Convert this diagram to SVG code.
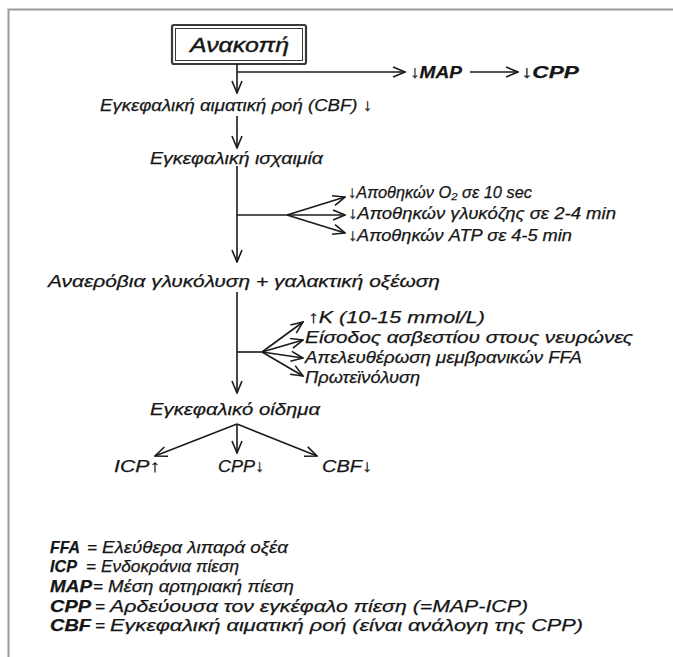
<svg xmlns="http://www.w3.org/2000/svg" width="673" height="657" viewBox="0 0 673 657">
  <style>
    .t { font-family: "Liberation Sans", Arial, sans-serif; font-style: italic; font-size: 17px; fill: #161616; stroke: #161616; stroke-width: 0.25; }
    .b { font-weight: bold; }
    .ln { stroke: #1a1a1a; stroke-width: 1.6; fill: none; }
    .frame { stroke: #9a9a9a; stroke-width: 2; fill: none; }
  </style>
  <defs>
    <marker id="arr" viewBox="0 0 14 12" refX="13" refY="6" markerWidth="14" markerHeight="12" markerUnits="userSpaceOnUse" orient="auto">
      <path d="M1,1 L13,6 L1,11" fill="none" stroke="#1a1a1a" stroke-width="1.6"/>
    </marker>
  </defs>

  <rect width="673" height="657" fill="#ffffff"/>
  <!-- page frame -->
  <path class="frame" d="M8.5,657 V9.5 H673"/>

  <!-- start node -->
  <g id="node-arrest">
    <rect x="172" y="25" width="134" height="39" rx="2" fill="none" stroke="#3a3a3a" stroke-width="2.2"/>
    <rect x="175.5" y="28.5" width="127" height="32" fill="none" stroke="#3a3a3a" stroke-width="1"/>
    <text class="t" x="190" y="52" textLength="99" lengthAdjust="spacingAndGlyphs" style="font-size:20px;stroke-width:0.4">Ανακοπή</text>
  </g>

  <g id="node-map"><text class="t b" x="410" y="78" textLength="52" lengthAdjust="spacingAndGlyphs">↓MAP</text></g>
  <g id="node-cpp-top"><text class="t b" x="521" y="78" textLength="58" lengthAdjust="spacingAndGlyphs">↓CPP</text></g>
  <g id="node-cbf"><text class="t" x="100" y="111" textLength="272" lengthAdjust="spacingAndGlyphs">Εγκεφαλική αιματική ροή (CBF) ↓</text></g>
  <g id="node-ischemia"><text class="t" x="150" y="164" textLength="173" lengthAdjust="spacingAndGlyphs">Εγκεφαλική ισχαιμία</text></g>

  <g id="node-stores">
    <text class="t" x="348" y="198" textLength="184" lengthAdjust="spacingAndGlyphs">↓Αποθηκών O₂ σε 10 sec</text>
    <text class="t" x="348" y="219" textLength="268" lengthAdjust="spacingAndGlyphs">↓Αποθηκών γλυκόζης σε 2-4 min</text>
    <text class="t" x="348" y="241" textLength="224" lengthAdjust="spacingAndGlyphs">↓Αποθηκών ATP σε 4-5 min</text>
  </g>

  <g id="node-anaerobic"><text class="t" x="48" y="287" textLength="392" lengthAdjust="spacingAndGlyphs">Αναερόβια γλυκόλυση + γαλακτική οξέωση</text></g>

  <g id="node-effects">
    <text class="t" x="308" y="323" textLength="177" lengthAdjust="spacingAndGlyphs">↑K  (10-15 mmol/L)</text>
    <text class="t" x="305" y="343" textLength="328" lengthAdjust="spacingAndGlyphs">Είσοδος ασβεστίου στους νευρώνες</text>
    <text class="t" x="305" y="363" textLength="277" lengthAdjust="spacingAndGlyphs">Απελευθέρωση μεμβρανικών FFA</text>
    <text class="t" x="305" y="383" textLength="115" lengthAdjust="spacingAndGlyphs">Πρωτεϊνόλυση</text>
  </g>

  <g id="node-edema"><text class="t" x="150" y="415" textLength="170" lengthAdjust="spacingAndGlyphs">Εγκεφαλικό οίδημα</text></g>
  <g id="node-icp"><text class="t" x="114" y="472" textLength="46" lengthAdjust="spacingAndGlyphs">ICP↑</text></g>
  <g id="node-cpp"><text class="t" x="218" y="472" textLength="46" lengthAdjust="spacingAndGlyphs">CPP↓</text></g>
  <g id="node-cbf-low"><text class="t" x="322" y="472" textLength="50" lengthAdjust="spacingAndGlyphs">CBF↓</text></g>

  <!-- connectors -->
  <g id="connectors">
    <path class="ln" d="M237,64 V93" marker-end="url(#arr)"/>
    <path class="ln" d="M237,72 H405" marker-end="url(#arr)"/>
    <path class="ln" d="M470,72 H518" marker-end="url(#arr)"/>
    <path class="ln" d="M237,116 V148" marker-end="url(#arr)"/>
    <path class="ln" d="M237,166 V262" marker-end="url(#arr)"/>
    <path class="ln" d="M237,215 H287"/>
    <path class="ln" d="M287,215 L345,197" marker-end="url(#arr)"/>
    <path class="ln" d="M287,215 L345,215" marker-end="url(#arr)"/>
    <path class="ln" d="M287,215 L345,233" marker-end="url(#arr)"/>
    <path class="ln" d="M237,292 V393" marker-end="url(#arr)"/>
    <path class="ln" d="M237,352 H262"/>
    <path class="ln" d="M262,352 L303,322" marker-end="url(#arr)"/>
    <path class="ln" d="M262,352 L303,340" marker-end="url(#arr)"/>
    <path class="ln" d="M262,352 L303,358" marker-end="url(#arr)"/>
    <path class="ln" d="M262,352 L303,376" marker-end="url(#arr)"/>
    <path class="ln" d="M237,424 L155,456" marker-end="url(#arr)"/>
    <path class="ln" d="M237,424 V453" marker-end="url(#arr)"/>
    <path class="ln" d="M237,424 L317,456" marker-end="url(#arr)"/>
  </g>

  <!-- legend: abbreviation, equals sign, definition -->
  <g id="legend">
    <text class="t b" x="50" y="553" textLength="30" lengthAdjust="spacingAndGlyphs">FFA</text>
    <text class="t" x="87" y="553">=</text>
    <text class="t" x="102" y="553" textLength="186" lengthAdjust="spacingAndGlyphs">Ελεύθερα λιπαρά οξέα</text>

    <text class="t b" x="50" y="572" textLength="27" lengthAdjust="spacingAndGlyphs">ICP</text>
    <text class="t" x="86" y="572">=</text>
    <text class="t" x="101" y="572" textLength="138" lengthAdjust="spacingAndGlyphs">Ενδοκράνια πίεση</text>

    <text class="t b" x="50" y="592" textLength="42" lengthAdjust="spacingAndGlyphs">MAP</text>
    <text class="t" x="93" y="592">=</text>
    <text class="t" x="108" y="592" textLength="186" lengthAdjust="spacingAndGlyphs">Μέση αρτηριακή πίεση</text>

    <text class="t b" x="50" y="612" textLength="41" lengthAdjust="spacingAndGlyphs">CPP</text>
    <text class="t" x="95" y="612">=</text>
    <text class="t" x="110" y="612" textLength="418" lengthAdjust="spacingAndGlyphs">Αρδεύουσα τον εγκέφαλο πίεση (=MAP-ICP)</text>

    <text class="t b" x="50" y="631" textLength="41" lengthAdjust="spacingAndGlyphs">CBF</text>
    <text class="t" x="95" y="631">=</text>
    <text class="t" x="110" y="631" textLength="473" lengthAdjust="spacingAndGlyphs">Εγκεφαλική αιματική ροή (είναι ανάλογη της CPP)</text>
  </g>
</svg>
